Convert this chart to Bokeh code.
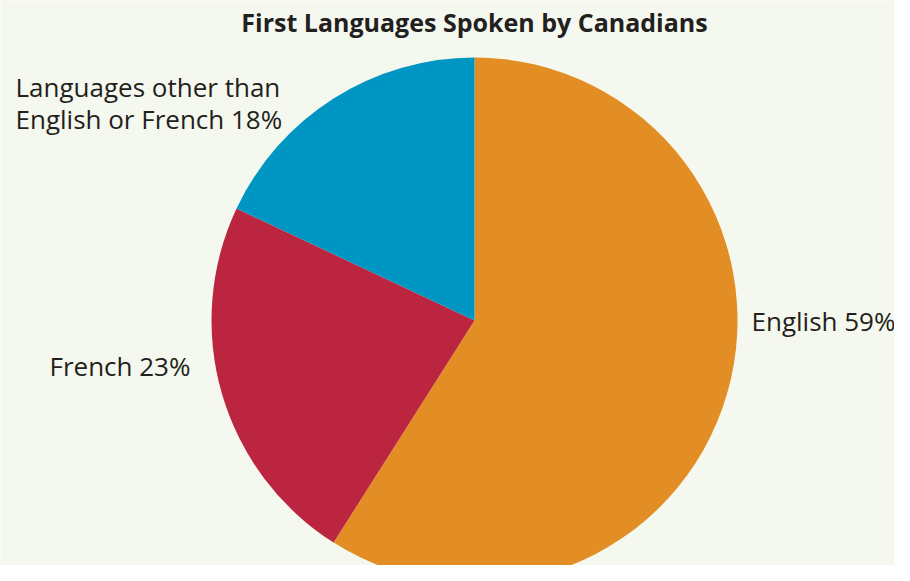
import numpy as np
from bokeh.plotting import figure
from bokeh.models import Range1d, ColumnDataSource
from bokeh.core.properties import value
from bokeh.embed import file_html
from bokeh.resources import INLINE

# ---- data ----
languages = ["English", "French", "Other"]
shares = [59, 23, 18]
label_lines = [["English 59%"], ["French 23%"], ["Languages other than", "English or French 18%"]]
colors = ["#E28E25", "#BC2540", "#0096C3"]
title = "First Languages Spoken by Canadians"

W, H = 894, 565
BG = "#F5F8EE"
TXT = "#231F20"
FONT = "Open Sans"

p = figure(width=W, height=H, output_backend="svg", toolbar_location=None,
           x_range=Range1d(0, W), y_range=Range1d(0, H), min_border=0,
           background_fill_color=BG, border_fill_color=BG, outline_line_color=None)
p.axis.visible = False
p.grid.visible = False

# pie geometry (pixels in data units)
cx, cy, r = 474, 245, 263
frac = np.array(shares, dtype=float) / sum(shares)
ends = np.pi / 2 - 2 * np.pi * np.cumsum(frac)
starts = np.concatenate([[np.pi / 2], ends[:-1]])
src = ColumnDataSource(dict(start=starts, end=ends, color=colors, lang=languages))
p.wedge(x=cx, y=cy, radius=r, start_angle="start", end_angle="end",
        direction="clock", fill_color="color", line_color=None, source=src)

# label anchors (left x, first baseline y), line spacing
anchors = [(751, 245), (49, 200), (15, 479)]
line_gap = 32
for (ax, ay), lines in zip(anchors, label_lines):
    for i, t in enumerate(lines):
        p.text(x=[ax], y=[ay - i * line_gap], text=[t], text_font=value(FONT),
               text_font_size="26px", text_color=TXT, text_align="left",
               text_baseline="alphabetic")

p.text(x=[474], y=[544], text=[title], text_font=value(FONT), text_font_style="bold",
       text_font_size="25px", text_color=TXT, text_align="center",
       text_baseline="alphabetic")

open("out.html", "w").write(file_html(p, INLINE))
